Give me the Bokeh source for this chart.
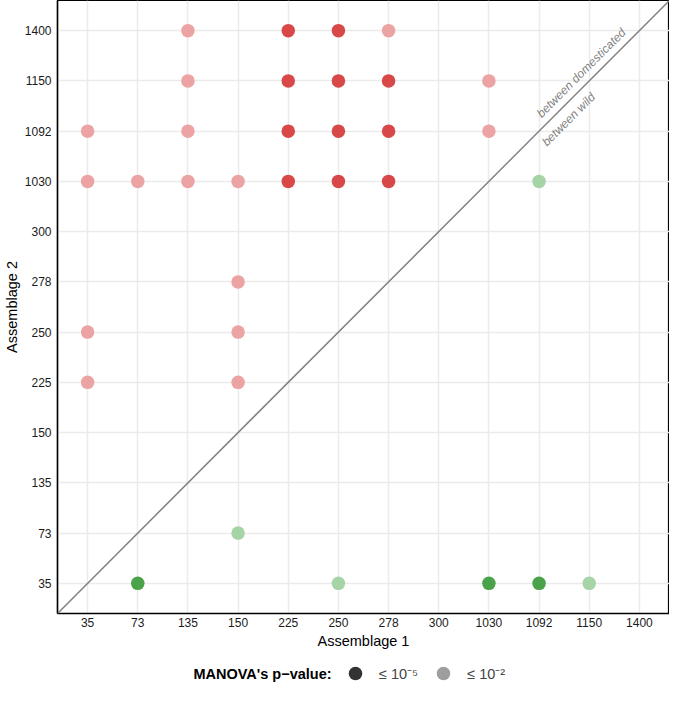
from bokeh.plotting import figure
from bokeh.layouts import column
from bokeh.models import (FactorRange, Range1d, Slope, Label, Legend,
                          LegendItem, ColumnDataSource)
from bokeh.embed import file_html
from bokeh.resources import INLINE

# ---------------- data ----------------
categories = ["35", "73", "135", "150", "225", "250", "278", "300",
              "1030", "1092", "1150", "1400"]

# between domesticated (red)
dom_a1 = ["135", "225", "250", "278",
          "135", "225", "250", "278", "1030",
          "35", "135", "225", "250", "278", "1030",
          "35", "73", "135", "150", "225", "250", "278",
          "150",
          "35", "150",
          "35", "150"]
dom_a2 = ["1400", "1400", "1400", "1400",
          "1150", "1150", "1150", "1150", "1150",
          "1092", "1092", "1092", "1092", "1092", "1092",
          "1030", "1030", "1030", "1030", "1030", "1030", "1030",
          "278",
          "250", "250",
          "225", "225"]
dom_sig = ["2", "5", "5", "2",
           "2", "5", "5", "5", "2",
           "2", "2", "5", "5", "5", "2",
           "2", "2", "2", "2", "5", "5", "5",
           "2",
           "2", "2",
           "2", "2"]

# between wild (green)
wild_a1 = ["1092", "150", "73", "250", "1030", "1092", "1150"]
wild_a2 = ["1030", "73", "35", "35", "35", "35", "35"]
wild_sig = ["2", "2", "5", "2", "5", "5", "2"]

legend_labels = ["≤ 10⁻⁵", "≤ 10⁻²"]
legend_title = "MANOVA's p\u2212value:"

# ---------------- styles ----------------
FONT = "Liberation Sans"
colors = {("dom", "5"): "#d84848", ("dom", "2"): "#eca3a3",
          ("wild", "5"): "#4aa24a", ("wild", "2"): "#a6d4a6"}

p = figure(width=669, height=656,
           x_range=FactorRange(factors=categories, range_padding=0.1,
                               range_padding_units="absolute"),
           y_range=FactorRange(factors=categories, range_padding=0.1,
                               range_padding_units="absolute"),
           output_backend="svg", toolbar_location=None,
           min_border_left=57, min_border_right=0, min_border_top=0,
           min_border_bottom=43)

p.background_fill_color = "white"
p.border_fill_color = "white"
p.outline_line_color = "black"
p.outline_line_width = 1.2

for g in (p.xgrid, p.ygrid):
    g.grid_line_color = "#ebebeb"
    g.grid_line_width = 1.5

for ax in (p.xaxis, p.yaxis):
    ax.axis_line_color = "black"
    ax.axis_line_width = 1.5
    ax.major_tick_line_color = None
    ax.minor_tick_line_color = None
    ax.major_label_text_font = FONT
    ax.major_label_text_font_size = "12px"
    ax.major_label_text_color = "#1a1a1a"
    ax.axis_label_text_font = FONT
    ax.axis_label_text_font_size = "14.5px"
    ax.axis_label_text_font_style = "normal"
    ax.axis_label_text_color = "black"
    ax.major_tick_out = 0
    ax.major_tick_in = 0

p.xaxis.axis_label = "Assemblage 1"
p.yaxis.axis_label = "Assemblage 2"
p.xaxis.major_label_standoff = 4
p.yaxis.major_label_standoff = 6
p.xaxis.axis_label_standoff = 3
p.yaxis.axis_label_standoff = 2

# diagonal
p.add_layout(Slope(gradient=1, y_intercept=0, line_color="#808080",
                   line_width=1.5))


def add_points(a1, a2, sig, group):
    for s in ("2", "5"):
        xs = [x for x, q in zip(a1, sig) if q == s]
        ys = [y for y, q in zip(a2, sig) if q == s]
        p.scatter(x=xs, y=ys, size=13.5, marker="circle",
                  fill_color=colors[(group, s)], line_color=None)


add_points(dom_a1, dom_a2, dom_sig, "dom")
add_points(wild_a1, wild_a2, wild_sig, "wild")

# diagonal annotations
p.add_layout(Label(x=10.5, y=10.5, text="between domesticated", angle=45,
                   angle_units="deg", text_align="center",
                   text_baseline="bottom", text_font=FONT,
                   text_font_size="12px", text_font_style="italic",
                   text_color="#7f7f7f", x_offset=-3, y_offset=3))
p.add_layout(Label(x=9.91, y=9.91, text="between wild", angle=45,
                   angle_units="deg", text_align="center",
                   text_baseline="top", text_font=FONT,
                   text_font_size="12px", text_font_style="italic",
                   text_color="#7f7f7f", x_offset=4, y_offset=-4))

# ---------------- legend strip ----------------
lf = figure(width=669, height=34, x_range=Range1d(0, 1), y_range=Range1d(0, 1),
            output_backend="svg", toolbar_location=None,
            x_axis_location=None, y_axis_location=None,
            min_border=0, min_border_left=0, min_border_right=0,
            min_border_top=0, min_border_bottom=0)
lf.outline_line_color = None
lf.xgrid.visible = False
lf.ygrid.visible = False
lf.background_fill_color = "white"
lf.border_fill_color = "white"

# legend proxies (kept outside the visible range; only their keys show)
proxy = ColumnDataSource(data=dict(x=[-5], y=[-5]))
r_dark = lf.scatter(x="x", y="y", source=proxy, size=14, marker="circle",
                    fill_color="#333333", line_color=None)
r_light = lf.scatter(x="x", y="y", source=proxy, size=14, marker="circle",
                     fill_color="#9e9e9e", line_color=None)
legend = Legend(items=[LegendItem(label=legend_labels[0], renderers=[r_dark]),
                       LegendItem(label=legend_labels[1], renderers=[r_light])],
                orientation="horizontal", location=(281, 0),
                label_text_font=FONT, label_text_font_size="14.5px",
                glyph_width=34, glyph_height=34, spacing=8,
                label_standoff=7, border_line_color=None,
                background_fill_alpha=0, padding=0, margin=0)
lf.add_layout(legend)

lf.add_layout(Label(x=205, y=17, x_units="screen", y_units="screen",
                    text=legend_title, text_font=FONT,
                    text_font_size="14.5px", text_font_style="bold",
                    text_align="center", text_baseline="middle",
                    text_color="black"))

layout = column(p, lf, spacing=0)
open("out.html", "w").write(file_html(layout, INLINE))
